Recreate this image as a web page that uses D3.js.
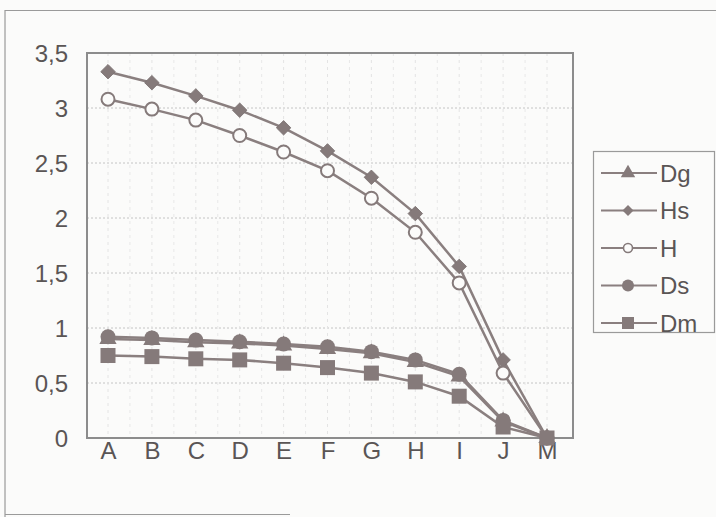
<!DOCTYPE html>
<html>
<head>
<meta charset="utf-8">
<script src="https://cdn.jsdelivr.net/npm/d3@7"></script>
<style>
  html, body { margin: 0; padding: 0; background: #fbfbfa; }
  svg { display: block; }
</style>
</head>
<body>
<svg id="chart" width="716" height="517"></svg>
<script>
const categories = ["A","B","C","D","E","F","G","H","I","J","M"];
const yTicks = [0, 0.5, 1, 1.5, 2, 2.5, 3, 3.5];
const seriesNames = ["Dg","Hs","H","Ds","Dm"];
const Dg = [0.90, 0.89, 0.87, 0.86, 0.84, 0.81, 0.77, 0.69, 0.56, 0.15, 0];
const Hs = [3.33, 3.23, 3.11, 2.98, 2.82, 2.61, 2.37, 2.04, 1.56, 0.71, 0];
const H  = [3.08, 2.99, 2.89, 2.75, 2.60, 2.43, 2.18, 1.87, 1.41, 0.59, 0];
const Ds = [0.92, 0.91, 0.89, 0.875, 0.855, 0.83, 0.785, 0.71, 0.58, 0.16, 0];
const Dm = [0.75, 0.74, 0.72, 0.71, 0.68, 0.64, 0.59, 0.51, 0.38, 0.10, 0];

const seriesData = { Dg, Hs, H, Ds, Dm };
const markerType = { Dg: "triangle", Hs: "diamond", H: "open", Ds: "circle", Dm: "square" };

const svg = d3.select("#chart");
const lineColor = "#8a7f7f";
const markColor = "#857a7a";
const textColor = "#5a5555";
const fontFam = "Liberation Sans, Arial, sans-serif";

// outer frame
svg.append("path")
  .attr("d", "M5,517 L5,10.5 L716,10.5")
  .attr("fill", "none").attr("stroke", "#9a9a9a").attr("stroke-width", 1.2);
svg.append("line").attr("x1", 5).attr("x2", 290).attr("y1", 514.5).attr("y2", 514.5)
  .attr("stroke", "#9a9a9a").attr("stroke-width", 1.2);

const plot = { left: 87, right: 573, top: 53, bottom: 438 };

const x = d3.scalePoint().domain(categories).range([108, 547]);
const y = d3.scaleLinear().domain([0, 3.5]).range([plot.bottom, plot.top]);

// gridlines
const g = svg.append("g");
g.selectAll(".hg").data(yTicks.slice(1, -1)).join("line")
  .attr("x1", plot.left).attr("x2", plot.right)
  .attr("y1", d => y(d)).attr("y2", d => y(d))
  .attr("stroke", "#c4c4c4").attr("stroke-width", 1).attr("stroke-dasharray", "2,2");
const step = x.step();
g.selectAll(".vg").data(categories).join("line")
  .attr("x1", d => x(d)).attr("x2", d => x(d))
  .attr("y1", plot.top).attr("y2", plot.bottom)
  .attr("stroke", "#e4e4e4").attr("stroke-width", 1).attr("stroke-dasharray", "3,4");
g.selectAll(".vg2").data(categories.slice(0, -1)).join("line")
  .attr("x1", d => x(d) + step / 2).attr("x2", d => x(d) + step / 2)
  .attr("y1", plot.top).attr("y2", plot.bottom)
  .attr("stroke", "#e8e8e8").attr("stroke-width", 1).attr("stroke-dasharray", "3,4");

// plot border
svg.append("rect")
  .attr("x", plot.left).attr("y", plot.top)
  .attr("width", plot.right - plot.left).attr("height", plot.bottom - plot.top)
  .attr("fill", "none").attr("stroke", "#8c8c8c").attr("stroke-width", 2);

// axes (labels only)
const yAxis = d3.axisLeft(y).tickValues(yTicks).tickSize(0).tickPadding(0)
  .tickFormat(d => d3.format("")(d).replace(".", ","));
const ya = svg.append("g").attr("transform", "translate(68,0)").call(yAxis);
ya.select(".domain").remove();
ya.selectAll("text").attr("font-family", fontFam)
  .attr("font-size", 24).attr("fill", textColor).attr("dy", "0.36em").attr("x", 0);

const xAxis = d3.axisBottom(x).tickSize(0).tickPadding(0);
const xa = svg.append("g").attr("transform", "translate(0,436)").call(xAxis);
xa.select(".domain").remove();
xa.selectAll("text").attr("font-family", fontFam)
  .attr("font-size", 24).attr("fill", textColor).attr("dy", "0.95em");

// markers
function drawMarker(sel, type, cx, cy) {
  if (type === "triangle") {
    sel.append("path").attr("d", d3.symbol(d3.symbolTriangle, 130)())
      .attr("transform", `translate(${cx},${cy})`).attr("fill", markColor);
  } else if (type === "diamond") {
    sel.append("path").attr("d", d3.symbol(d3.symbolSquare, 105)())
      .attr("transform", `translate(${cx},${cy}) rotate(45)`).attr("fill", markColor)
      .attr("stroke", "#7a7070").attr("stroke-width", 0.8);
  } else if (type === "open") {
    sel.append("circle").attr("cx", cx).attr("cy", cy).attr("r", 6.5)
      .attr("fill", "#fbfbfa").attr("stroke", markColor).attr("stroke-width", 2);
  } else if (type === "circle") {
    sel.append("circle").attr("cx", cx).attr("cy", cy).attr("r", 7.5)
      .attr("fill", markColor);
  } else if (type === "square") {
    sel.append("rect").attr("x", cx - 7.5).attr("y", cy - 7.5)
      .attr("width", 15).attr("height", 15).attr("fill", markColor);
  }
}

const line = d3.line().x((d, i) => x(categories[i])).y(d => y(d));
const seriesG = svg.append("g");
seriesNames.forEach(name => {
  const vals = seriesData[name];
  const sg = seriesG.append("g");
  sg.append("path").datum(vals).attr("d", line)
    .attr("fill", "none").attr("stroke", lineColor).attr("stroke-width", 2.5);
  vals.forEach((v, i) => drawMarker(sg, markerType[name], x(categories[i]), y(v)));
});

// legend
const lg = svg.append("g");
lg.append("rect").attr("x", 593.5).attr("y", 151.5).attr("width", 121).attr("height", 181)
  .attr("fill", "#fbfbfa").attr("stroke", "#9a9a9a").attr("stroke-width", 1.2);
const legendY = d3.scalePoint().domain(seriesNames).range([173, 323]);
seriesNames.forEach(name => {
  const ly = legendY(name);
  lg.append("line").attr("x1", 601).attr("x2", 657).attr("y1", ly).attr("y2", ly)
    .attr("stroke", lineColor).attr("stroke-width", 2);
  const t = markerType[name];
  if (t === "open") {
    lg.append("circle").attr("cx", 628).attr("cy", ly).attr("r", 4.5)
      .attr("fill", "#fbfbfa").attr("stroke", markColor).attr("stroke-width", 1.6);
  } else if (t === "circle") {
    lg.append("circle").attr("cx", 628).attr("cy", ly).attr("r", 6).attr("fill", markColor);
  } else if (t === "square") {
    lg.append("rect").attr("x", 622).attr("y", ly - 6).attr("width", 12).attr("height", 12).attr("fill", markColor);
  } else if (t === "diamond") {
    lg.append("path").attr("d", d3.symbol(d3.symbolSquare, 60)()).attr("transform", `translate(628,${ly}) rotate(45)`).attr("fill", markColor);
  } else {
    lg.append("path").attr("d", d3.symbol(d3.symbolTriangle, 90)()).attr("transform", `translate(628,${ly})`).attr("fill", markColor);
  }
  lg.append("text").attr("x", 660).attr("y", ly).attr("dy", "0.36em")
    .attr("font-family", fontFam).attr("font-size", 24)
    .attr("fill", textColor).text(name);
});
</script>
</body>
</html>
